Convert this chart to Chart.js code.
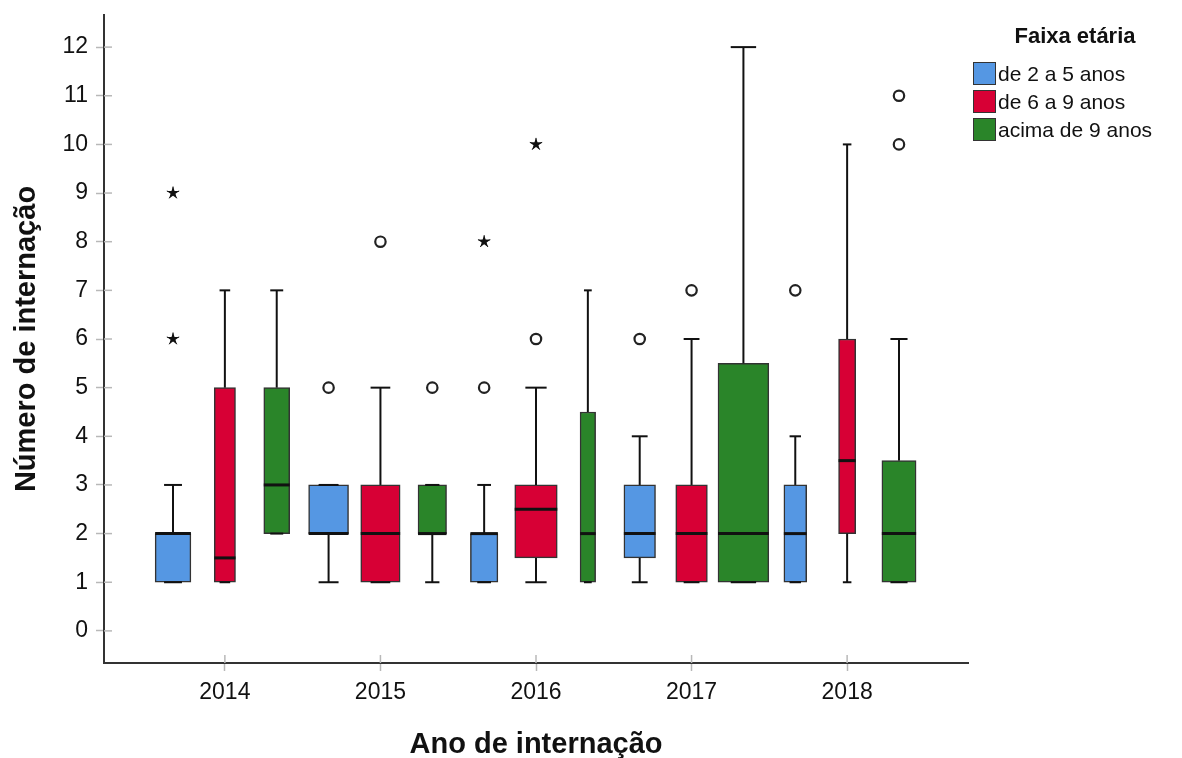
<!DOCTYPE html>
<html>
<head>
<meta charset="utf-8">
<script src="https://cdn.jsdelivr.net/npm/chart.js@4.4.0/dist/chart.umd.min.js"></script>
<style>
  body { margin: 0; background: #fff; }
  #wrap { position: relative; width: 1182px; height: 758px; }
  #legend { position: absolute; left: 968px; top: 0; width: 214px; height: 200px;
            font-family: 'Liberation Sans', Arial, sans-serif; color: #111; }
  #legend .title { position: absolute; left: 0; top: 22px; width: 214px; line-height: 28px;
                   text-align: center; font-weight: bold; font-size: 22px; }
  #legend .item { position: absolute; left: 5px; height: 23px; display: flex; align-items: center;
                  font-size: 21px; white-space: nowrap; }
  #legend .swatch { width: 23px; height: 23px; box-sizing: border-box; border: 1.5px solid #333;
                    margin-right: 2px; }
</style>
</head>
<body>
<div id="wrap">
  <canvas id="chart" width="1182" height="758"></canvas>
  <div id="legend"><div class="title">Faixa etária</div></div>
</div>
<script>
// Setup Block
const years = [2014, 2015, 2016, 2017, 2018];
const yTicks = [0, 1, 2, 3, 4, 5, 6, 7, 8, 9, 10, 11, 12];

// de 2 a 5 anos
const blueMin = [1, 1, 1, 1, 1];
const blueQ1  = [1, 2, 1, 1.5, 1];
const blueMed = [2, 2, 2, 2, 2];
const blueQ3  = [2, 3, 2, 3, 3];
const blueMax = [3, 3, 3, 4, 4];
const blueOut = [[], [5], [5], [6], [7]];
const blueExt = [[6, 9], [], [8], [], []];

// de 6 a 9 anos
const redMin = [1, 1, 1, 1, 1];
const redQ1  = [1, 1, 1.5, 1, 2];
const redMed = [1.5, 2, 2.5, 2, 3.5];
const redQ3  = [5, 3, 3, 3, 6];
const redMax = [7, 5, 5, 6, 10];
const redOut = [[], [8], [6], [7], []];
const redExt = [[], [], [10], [], []];

// acima de 9 anos
const greenMin = [2, 1, 1, 1, 1];
const greenQ1  = [2, 2, 1, 1, 1];
const greenMed = [3, 2, 2, 2, 2];
const greenQ3  = [5, 3, 4.5, 5.5, 3.5];
const greenMax = [7, 3, 7, 12, 6];
const greenOut = [[], [5], [], [], [10, 11]];
const greenExt = [[], [], [], [], []];

// box widths as share of each group slot (SPSS scales them by group size)
const boxWidthFrac = [
    [0.69, 0.77, 0.53, 0.61, 0.44],
    [0.41, 0.76, 0.82, 0.61, 0.33],
    [0.50, 0.55, 0.30, 0.98, 0.66]
];

function makeSet(label, color, min, q1, med, q3, max, out, ext) {
    return {
        label: label,
        data: years.map((yr, i) => ({ x: yr, y: [q1[i], q3[i]] })),
        backgroundColor: color,
        borderColor: '#333',
        borderWidth: 1.5,
        borderSkipped: false,
        stats: { min, med, max, out, ext }
    };
}

const data = {
    datasets: [
        makeSet('de 2 a 5 anos', '#5597E3', blueMin, blueQ1, blueMed, blueQ3, blueMax, blueOut, blueExt),
        makeSet('de 6 a 9 anos', '#D70035', redMin, redQ1, redMed, redQ3, redMax, redOut, redExt),
        makeSet('acima de 9 anos', '#2A8529', greenMin, greenQ1, greenMed, greenQ3, greenMax, greenOut, greenExt)
    ]
};

function line(ctx, x1, y1, x2, y2) {
    ctx.beginPath();
    ctx.moveTo(x1, y1);
    ctx.lineTo(x2, y2);
    ctx.stroke();
}

// SPSS "extreme" marker: small five armed asterisk
function star(ctx, x, y, r) {
    ctx.beginPath();
    for (let k = 0; k < 10; k++) {
        const a = -Math.PI / 2 + k * Math.PI / 5;
        const rr = k % 2 === 0 ? r : r * 0.4;
        ctx.lineTo(x + rr * Math.cos(a), y + rr * Math.sin(a));
    }
    ctx.closePath();
    ctx.fill();
    ctx.lineWidth = 1;
    for (let k = 0; k < 5; k++) {
        const a = -Math.PI / 2 + k * 2 * Math.PI / 5;
        line(ctx, x, y, x + r * Math.cos(a), y + r * Math.sin(a));
    }
}

// whiskers, medians and outliers on top of the floating bars
const boxPlot = {
    id: 'boxPlot',
    afterDatasetsUpdate(chart) {
        chart.data.datasets.forEach((ds, d) => {
            chart.getDatasetMeta(d).data.forEach((bar, i) => {
                bar.width = bar.width * boxWidthFrac[d][i];
            });
        });
    },
    beforeDatasetsDraw(chart) {
        // inner half of the tick marks
        const ctx = chart.ctx, a = chart.chartArea;
        const xs = chart.scales.x, ys = chart.scales.y;
        ctx.save();
        ctx.strokeStyle = '#b8b8b8';
        ctx.lineWidth = 1.5;
        ys.ticks.forEach((t, k) => {
            const py = ys.getPixelForTick(k);
            line(ctx, a.left, py, a.left + 8, py);
        });
        xs.ticks.forEach((t, k) => {
            const px = xs.getPixelForTick(k);
            line(ctx, px, a.bottom, px, a.bottom - 8);
        });
        ctx.restore();
    },
    afterDatasetsDraw(chart) {
        const ctx = chart.ctx, ys = chart.scales.y;
        ctx.save();
        chart.data.datasets.forEach((ds, d) => {
            const s = ds.stats;
            chart.getDatasetMeta(d).data.forEach((bar, i) => {
                const x = bar.x, half = bar.width / 2, cap = bar.width / 4;
                const q1 = ds.data[i].y[0], q3 = ds.data[i].y[1];
                const pMin = ys.getPixelForValue(s.min[i]);
                const pMax = ys.getPixelForValue(s.max[i]);
                ctx.strokeStyle = '#111';
                ctx.lineWidth = 2;
                line(ctx, x, ys.getPixelForValue(q3), x, pMax);
                line(ctx, x, ys.getPixelForValue(q1), x, pMin);
                line(ctx, x - cap, pMax, x + cap, pMax);
                line(ctx, x - cap, pMin, x + cap, pMin);
                ctx.lineWidth = 3;
                const pMed = ys.getPixelForValue(s.med[i]);
                line(ctx, x - half, pMed, x + half, pMed);
                ctx.lineWidth = 2.2;
                ctx.strokeStyle = '#222';
                ctx.fillStyle = '#fff';
                s.out[i].forEach(v => {
                    ctx.beginPath();
                    ctx.arc(x, ys.getPixelForValue(v), 5.2, 0, Math.PI * 2);
                    ctx.fill();
                    ctx.stroke();
                });
                ctx.fillStyle = '#111';
                ctx.strokeStyle = '#111';
                s.ext[i].forEach(v => star(ctx, x, ys.getPixelForValue(v), 6.5));
            });
        });
        ctx.restore();
    }
};

Chart.defaults.font.family = "'Liberation Sans', Arial, sans-serif";
Chart.defaults.color = '#111';

// Config Block
const config = {
    type: 'bar',
    data: data,
    options: {
        responsive: false,
        animation: false,
        events: [],
        layout: { padding: { left: 0, right: 214, top: 15, bottom: 0 } },
        categoryPercentage: 1,
        barPercentage: 1,
        plugins: {
            legend: { display: false },
            tooltip: { enabled: false }
        },
        scales: {
            x: {
                type: 'linear',
                min: 2013.223,
                max: 2018.777,
                bounds: 'data',
                offset: false,
                afterBuildTicks: s => { s.ticks = years.map(v => ({ value: v })); },
                afterFit: s => { s.height = 95; s.paddingLeft = 0; s.paddingRight = 0; },
                grid: { offset: false, drawOnChartArea: false, tickLength: 8, color: '#b8b8b8', tickWidth: 1.5 },
                border: { color: '#333', width: 2 },
                ticks: { font: { size: 23 }, padding: 8, color: '#111', callback: v => String(v) },
                title: { display: true, text: 'Ano de internação', font: { size: 29, weight: 'bold' },
                         padding: { top: 0, bottom: -4 }, color: '#111' }
            },
            y: {
                min: -0.66,
                max: 12.66,
                bounds: 'data',
                afterBuildTicks: s => { s.ticks = yTicks.map(v => ({ value: v })); },
                afterFit: s => { s.width = 104; s.paddingTop = 0; s.paddingBottom = 0; },
                grid: { drawOnChartArea: false, tickLength: 8, color: '#b8b8b8', tickWidth: 1.5 },
                border: { color: '#333', width: 2 },
                ticks: { font: { size: 23 }, padding: 8, color: '#111', callback: v => String(v) },
                title: { display: true, text: 'Número de internação', font: { size: 29, weight: 'bold' },
                         padding: { top: 10, bottom: 0 }, color: '#111' }
            }
        }
    },
    plugins: [boxPlot]
};

// Render Block
const chart = new Chart(document.getElementById('chart'), config);

// legend built from the datasets
const legendEl = document.getElementById('legend');
chart.data.datasets.forEach((ds, i) => {
    const item = document.createElement('div');
    item.className = 'item';
    item.style.top = (62 + 28 * i) + 'px';
    const sw = document.createElement('span');
    sw.className = 'swatch';
    sw.style.background = ds.backgroundColor;
    item.appendChild(sw);
    item.appendChild(document.createTextNode(ds.label));
    legendEl.appendChild(item);
});
</script>
</body>
</html>
